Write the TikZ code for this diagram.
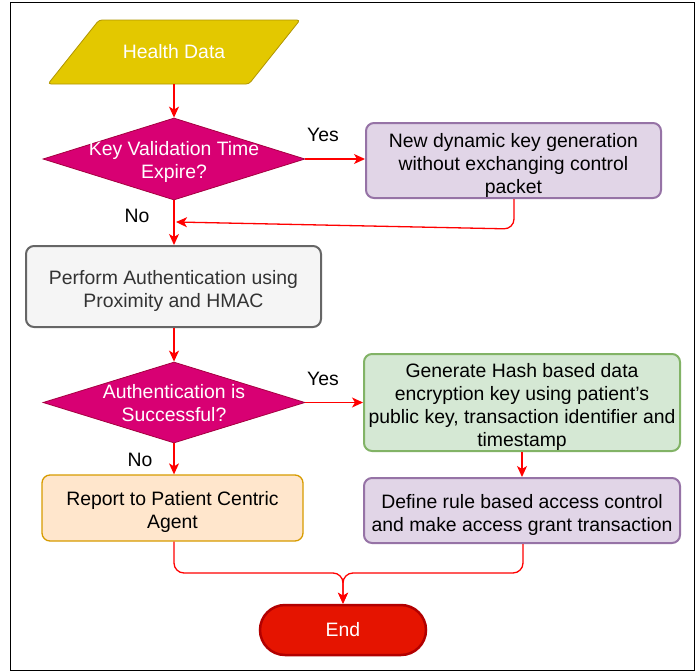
\documentclass[tikz,border=0pt]{standalone}
\usepackage{fontspec}
\setmainfont{Liberation Sans}
\usetikzlibrary{shapes.geometric,arrows.meta,calc}

\definecolor{hdfill}{HTML}{E3C800}
\definecolor{hdline}{HTML}{B09500}
\definecolor{decfill}{HTML}{D80073}
\definecolor{decline}{HTML}{A50040}
\definecolor{purfill}{HTML}{E1D5E7}
\definecolor{purline}{HTML}{9673A6}
\definecolor{grayfill}{HTML}{F5F5F5}
\definecolor{grayline}{HTML}{666666}
\definecolor{graytext}{HTML}{333333}
\definecolor{grnfill}{HTML}{D5E8D4}
\definecolor{grnline}{HTML}{82B366}
\definecolor{orgfill}{HTML}{FFE6CC}
\definecolor{orgline}{HTML}{D79B00}
\definecolor{endfill}{HTML}{E51400}
\definecolor{endline}{HTML}{B20000}
\definecolor{flow}{HTML}{FF0000}

\begin{document}
\begin{tikzpicture}[x=1pt,y=-1pt,
  font=\fontsize{19.4}{23}\selectfont,
  every node/.style={inner sep=0pt, align=center},
  % multi-line texts: fixed block height, no last-line depth
  twolines/.style={text height=41pt, text depth=0pt},
  threelines/.style={text height=66pt, text depth=0pt},
  fourlines/.style={text height=87pt, text depth=0pt},
  stepbox/.style={rectangle, rounded corners=8pt, line width=2pt},
  decision/.style={diamond, fill=decfill, draw=decline, line width=0.8pt,
    minimum width=262pt, minimum height=82pt},
  decisiontext/.style={text=white, align=center, text height=38.5pt, text depth=0pt},
  flowarrow/.style={draw=flow, line width=1.3pt, rounded corners=10pt,
    -{Stealth[length=11pt,width=10pt,inset=3pt]}},
  answer/.style={text=black}
]
\useasboundingbox (0,0) rectangle (697,672);

% outer frame
\draw[line width=1.8pt] (10.5,2.5) rectangle (694.5,670.5);

% input: health data (parallelogram drawn behind its text node)
\fill[hdfill, draw=hdline, line width=0.8pt, rounded corners=3pt]
  (99,20) -- (300,20) -- (249,84) -- (48,84) -- cycle;
\node[minimum width=150pt, minimum height=64pt, text=white] (hd) at (174,52) {Health Data};

% first decision
\node[decision, label={[decisiontext]center:{Key Validation Time\\Expire?}}]
  (d1) at (174,159) {};

% key generation
\node[stepbox, threelines, fill=purfill, draw=purline, minimum width=295pt, minimum height=75pt]
  (b1) at (513.5,160.5) {New dynamic key generation\\without exchanging control\\packet};

% authentication
\node[stepbox, twolines, fill=grayfill, draw=grayline, text=graytext, minimum width=295pt, minimum height=81pt]
  (b2) at (173.5,286.5) {Perform Authentication using\\Proximity and HMAC};

% second decision
\node[decision, minimum height=81pt,
  label={[decisiontext]center:{Authentication is\\Successful?}}]
  (d2) at (174,402.5) {};

% hash key generation
\node[stepbox, fourlines, fill=grnfill, draw=grnline, minimum width=316pt, minimum height=97pt]
  (g) at (522,402.5) {Generate Hash based data\\encryption key using patient's\\public key, transaction identifier and\\timestamp};

% access control
\node[stepbox, twolines, fill=purfill, draw=purline, minimum width=316pt, minimum height=65pt]
  (p2) at (522,510.5) {Define rule based access control\\and make access grant transaction};

% report
\node[stepbox, twolines, fill=orgfill, draw=orgline, line width=1.3pt, minimum width=261pt, minimum height=66pt]
  (o) at (172.5,508) {Report to Patient Centric\\Agent};

% terminal
\node[rectangle, rounded corners=25pt, fill=endfill, draw=endline, line width=2.5pt,
  text=white, minimum width=166pt, minimum height=50pt] (end) at (343,630) {End};

% branch labels
\node[answer] (y1) at (323,135) {Yes};
\node[answer] (n1) at (137,216) {No};
\node[answer] (y2) at (323,379) {Yes};
\node[answer] (n2) at (140,460) {No};

% connectors
\coordinate (j1) at (176,222);
\coordinate (m) at (343,573);
\draw[flowarrow] (hd.south) -- (d1.north);
\draw[flowarrow] (d1.east) -- (b1.west |- d1.east);
\draw[flowarrow] (b1.south -| 514,0) -- (514,229) -- (j1);
\draw[flowarrow] (d1.south) -- (b2.north -| d1.south);
\draw[flowarrow] (b2.south -| d2.north) -- (d2.north);
\draw[flowarrow] (d2.east) -- (g.west |- d2.east);
\draw[flowarrow] (d2.south) -- (o.north -| d2.south);
\draw[flowarrow] (g.south) -- (p2.north);
\draw[flowarrow] (o.south -| 174,0) -- (174,573) -- (m) -- (end.north);
\draw[flowarrow] (p2.south -| 523,0) -- (523,573) -- (m) -- (end.north);
\end{tikzpicture}
\end{document}
